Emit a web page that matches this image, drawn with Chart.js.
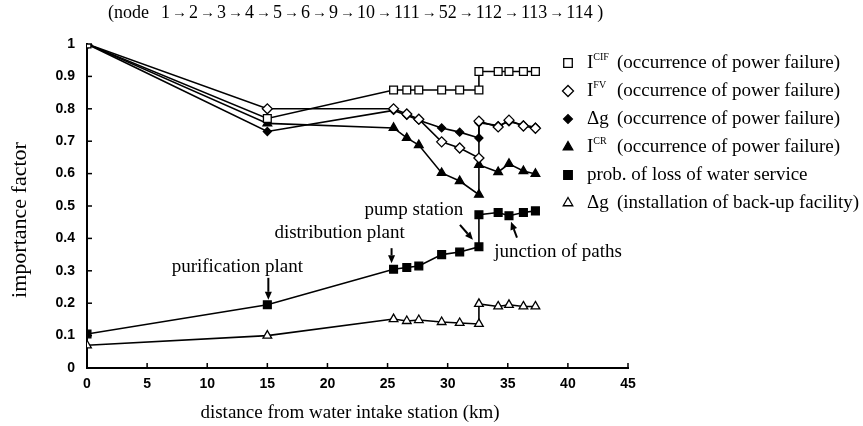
<!DOCTYPE html>
<html><head><meta charset="utf-8">
<script src="https://cdn.jsdelivr.net/npm/chart.js@4.4.1/dist/chart.umd.min.js"></script>
<style>html,body{margin:0;padding:0;background:#fff;}</style>
</head><body>
<canvas id="c" width="863" height="426"></canvas>
<script>
// ---- data ----
const distances = [0, 15, 25.5, 26.6, 27.6, 29.5, 31.0, 32.6, 32.6, 34.2, 35.1, 36.3, 37.3];
const iCIF      = [1.0, 0.77, 0.858, 0.858, 0.858, 0.858, 0.858, 0.858, 0.915, 0.915, 0.915, 0.915, 0.915];
const iFV       = [1.0, 0.80, 0.80, 0.784, 0.768, 0.698, 0.679, 0.648, 0.762, 0.744, 0.765, 0.747, 0.74];
const dgPower   = [1.0, 0.73, 0.795, 0.78, 0.765, 0.741, 0.728, 0.71, 0.757, 0.748, 0.76, 0.75, 0.743];
const iCR       = [1.0, 0.755, 0.741, 0.71, 0.688, 0.602, 0.577, 0.535, 0.627, 0.605, 0.63, 0.608, 0.599];
const lossProb  = [0.105, 0.195, 0.305, 0.31, 0.315, 0.35, 0.358, 0.374, 0.473, 0.48, 0.47, 0.48, 0.485];
const dgBackup  = [0.07, 0.10, 0.151, 0.145, 0.148, 0.142, 0.139, 0.136, 0.198, 0.19, 0.195, 0.19, 0.19];
const xTicks = [0, 5, 10, 15, 20, 25, 30, 35, 40, 45];
const yTicks = [0, 0.1, 0.2, 0.3, 0.4, 0.5, 0.6, 0.7, 0.8, 0.9, 1];
const nodePath = ["1", "2", "3", "4", "5", "6", "9", "10", "111", "52", "112", "113", "114"];
const xTitle = "distance from water intake station (km)";
const yTitle = "importance factor";
// legend: [base, superscript, rest]
const legendItems = [
  ["I", "CIF", "(occurrence of power failure)"],
  ["I", "FV", "(occurrence of power failure)"],
  ["\u0394g", "", "(occurrence of power failure)"],
  ["I", "CR", "(occurrence of power failure)"],
  ["prob. of loss of water service", "", ""],
  ["\u0394g", "", "(installation of back-up facility)"]
];
const annotations = [
  {text: "purification plant", x: 15,   y: 0.195},
  {text: "distribution plant", x: 25.5, y: 0.305},
  {text: "pump station",       x: 32.6, y: 0.374},
  {text: "junction of paths",  x: 35.1, y: 0.47}
];

const pts = ys => distances.map((x, i) => ({x: x, y: ys[i]}));
const markerStyles = [
  {pointStyle: 'rect',    fill: '#fff', r: 5.5},
  {pointStyle: 'rectRot', fill: '#fff', r: 5},
  {pointStyle: 'rectRot', fill: '#000', r: 4},
  {pointStyle: 'triangle',fill: '#000', r: 5},
  {pointStyle: 'rect',    fill: '#000', r: 5.5},
  {pointStyle: 'triangle',fill: '#fff', r: 5}
];
const seriesData = [iCIF, iFV, dgPower, iCR, lossProb, dgBackup];
const datasets = seriesData.map((d, i) => ({
  label: legendItems[i].join(' '),
  data: pts(d),
  showLine: true,
  borderColor: '#000',
  borderWidth: 1.6,
  pointStyle: markerStyles[i].pointStyle,
  pointRadius: markerStyles[i].r,
  pointBackgroundColor: markerStyles[i].fill,
  pointBorderColor: '#000',
  pointBorderWidth: 1.3,
  tension: 0
}));

const SERIF = '"Liberation Serif", "Times New Roman", serif';

function arrow(ctx, x1, y1, x2, y2, h, w, lw) {
  ctx.save();
  ctx.strokeStyle = '#000'; ctx.fillStyle = '#000'; ctx.lineWidth = lw || 2;
  const a = Math.atan2(y2 - y1, x2 - x1);
  const bx = x2 - h * Math.cos(a), by = y2 - h * Math.sin(a);
  ctx.beginPath(); ctx.moveTo(x1, y1); ctx.lineTo(bx, by); ctx.stroke();
  ctx.beginPath();
  ctx.moveTo(x2, y2);
  ctx.lineTo(bx + w * Math.sin(a), by - w * Math.cos(a));
  ctx.lineTo(bx - w * Math.sin(a), by + w * Math.cos(a));
  ctx.closePath(); ctx.fill();
  ctx.restore();
}

function drawMarker(ctx, style, x, y) {
  ctx.save();
  ctx.lineWidth = 1.3; ctx.strokeStyle = '#000'; ctx.fillStyle = style.fill;
  Chart.helpers.drawPoint(ctx, {pointStyle: style.pointStyle, radius: style.r * 1.1, borderWidth: 1.3}, x, y);
  ctx.restore();
}

const decor = {
  id: 'decor',
  afterDraw(chart) {
    const ctx = chart.ctx, xs = chart.scales.x, ys = chart.scales.y, ca = chart.chartArea;
    ctx.save();
    // inward ticks
    ctx.strokeStyle = '#000'; ctx.lineWidth = 1.5;
    yTicks.forEach(v => { if (v === 0) return; const p = ys.getPixelForValue(v);
      ctx.beginPath(); ctx.moveTo(ca.left, p); ctx.lineTo(ca.left + 5, p); ctx.stroke(); });
    xTicks.forEach(v => { if (v === 0) return; const p = xs.getPixelForValue(v);
      ctx.beginPath(); ctx.moveTo(p, ca.bottom); ctx.lineTo(p, ca.bottom - 5); ctx.stroke(); });
    // top title: node path
    ctx.fillStyle = '#000';
    ctx.font = '18px ' + SERIF;
    ctx.textBaseline = 'middle'; ctx.textAlign = 'left';
    let tx0 = 108;
    ctx.fillText('(node', tx0, 13);
    tx0 += ctx.measureText('(node').width + 12;
    nodePath.forEach((n, i) => {
      ctx.font = '18px ' + SERIF;
      ctx.fillText(n, tx0, 13);
      tx0 += ctx.measureText(n).width;
      if (i < nodePath.length - 1) {
        ctx.font = '15px ' + SERIF;
        ctx.fillText('\u2192', tx0 + 2, 13);
        tx0 += ctx.measureText('\u2192').width + 4;
      }
    });
    ctx.font = '18px ' + SERIF;
    ctx.fillText(' )', tx0, 13);
    // axis titles
    ctx.font = '19px ' + SERIF; ctx.textAlign = 'center';
    ctx.fillText(xTitle, 350, 413);
    ctx.save(); ctx.translate(20, 220); ctx.rotate(-Math.PI / 2);
    ctx.font = '22px ' + SERIF;
    ctx.fillText(yTitle, 0, 0); ctx.restore();
    // annotations
    const offs = [
      {tx: -30, ty: -38, ax1: 1, ay1: -27, ax2: 1, ay2: -5},
      {tx: -54, ty: -36, ax1: -2, ay1: -21, ax2: -2, ay2: -6},
      {tx: -65, ty: -37, ax1: -19, ay1: -22, ax2: -6, ay2: -7},
      {tx: 49, ty: 36, ax1: 8, ay1: 22, ax2: 2, ay2: 6}
    ];
    ctx.font = '19px ' + SERIF; ctx.textAlign = 'center'; ctx.textBaseline = 'middle';
    annotations.forEach((a, i) => {
      const px = xs.getPixelForValue(a.x), py = ys.getPixelForValue(a.y), o = offs[i];
      ctx.fillText(a.text, px + o.tx, py + o.ty);
      arrow(ctx, px + o.ax1, py + o.ay1, px + o.ax2, py + o.ay2, 8, 3.5, 2);
    });
    // legend
    const lx = 568, tx = 587, ly0 = 63, dy = 28;
    legendItems.forEach((it, i) => {
      const y = ly0 + i * dy;
      drawMarker(ctx, markerStyles[i], lx, y);
      ctx.fillStyle = '#000'; ctx.textAlign = 'left'; ctx.textBaseline = 'middle';
      ctx.font = '19px ' + SERIF;
      ctx.fillText(it[0], tx, y);
      let x = tx + ctx.measureText(it[0]).width;
      if (it[1]) {
        ctx.font = '10px ' + SERIF;
        ctx.fillText(it[1], x, y - 6);
        x += ctx.measureText(it[1]).width;
      }
      if (it[2]) {
        ctx.font = '19px ' + SERIF;
        ctx.fillText(it[2], Math.max(x + 4, 617), y);
      }
    });
    ctx.restore();
  }
};

new Chart(document.getElementById('c'), {
  type: 'scatter',
  data: {datasets},
  options: {
    responsive: false, animation: false,
    layout: {padding: {left: 0, top: 44, right: 235, bottom: 0}},
    plugins: {legend: {display: false}, tooltip: {enabled: false}, title: {display: false}},
    scales: {
      x: {
        type: 'linear', min: 0, max: 45,
        afterFit: s => { s.height = 58; },
        afterBuildTicks: s => { s.ticks = xTicks.map(v => ({value: v})); },
        grid: {display: false, drawTicks: false},
        border: {display: true, color: '#000', width: 2},
        ticks: {color: '#000', padding: 8, callback: v => String(v),
          font: {family: '"Liberation Sans", Arial, sans-serif', size: 14, weight: 'bold'}}
      },
      y: {
        type: 'linear', min: 0, max: 1,
        afterFit: s => { s.width = 87; },
        afterBuildTicks: s => { s.ticks = yTicks.map(v => ({value: v})); },
        grid: {display: false, drawTicks: false},
        border: {display: true, color: '#000', width: 2},
        ticks: {color: '#000', padding: 12, callback: v => String(v),
          font: {family: '"Liberation Sans", Arial, sans-serif', size: 14, weight: 'bold'}}
      }
    }
  },
  plugins: [decor]
});
</script>
</body></html>
